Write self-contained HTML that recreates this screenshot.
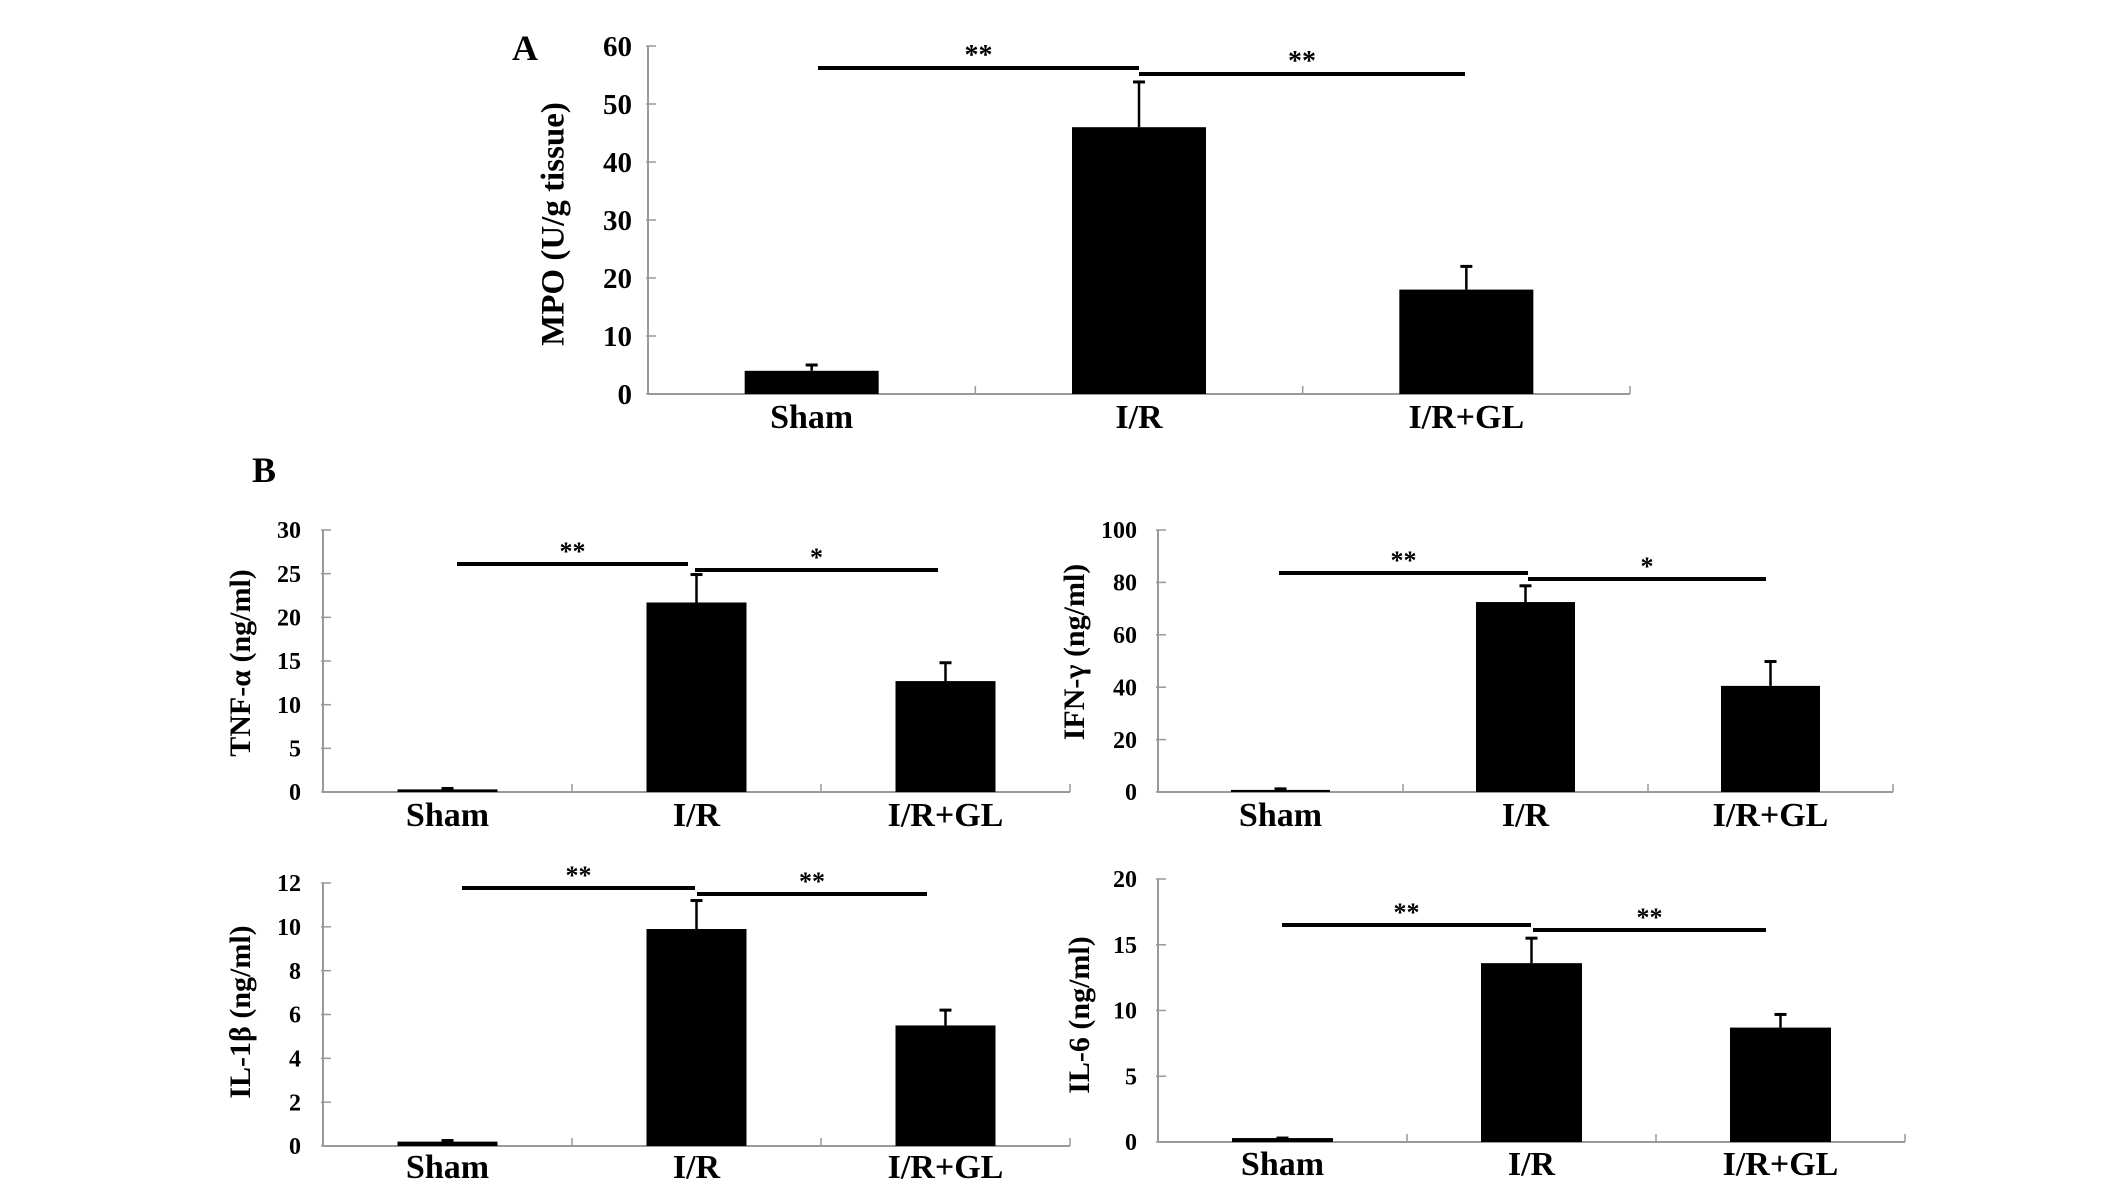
<!DOCTYPE html>
<html><head><meta charset="utf-8">
<style>
html,body{margin:0;padding:0;background:#fff;}
svg{display:block;}
text{font-family:"Liberation Serif","Times New Roman",serif;font-weight:bold;fill:#000;}
</style></head>
<body>
<svg id="fig" width="2126" height="1189" viewBox="0 0 2126 1189" xmlns="http://www.w3.org/2000/svg">
<text x="512" y="60" font-size="36">A</text>
<text x="252" y="482" font-size="36">B</text>
</svg>
<script>
const categories = ["Sham", "I/R", "I/R+GL"];
const mpoValues = [4, 46, 18];
const mpoErrors = [5, 53.8, 22];
const mpoTicks = [0, 10, 20, 30, 40, 50, 60];
const tnfValues = [0.3, 21.7, 12.7];
const tnfErrors = [0.4, 24.9, 14.8];
const tnfTicks = [0, 5, 10, 15, 20, 25, 30];
const ifnValues = [0.8, 72.5, 40.5];
const ifnErrors = [1.2, 78.7, 49.8];
const ifnTicks = [0, 20, 40, 60, 80, 100];
const il1Values = [0.2, 9.9, 5.5];
const il1Errors = [0.25, 11.2, 6.2];
const il1Ticks = [0, 2, 4, 6, 8, 10, 12];
const il6Values = [0.3, 13.6, 8.7];
const il6Errors = [0.3, 15.5, 9.7];
const il6Ticks = [0, 5, 10, 15, 20];
const mpoSig = ["**", "**"];
const tnfSig = ["**", "*"];
const ifnSig = ["**", "*"];
const il1Sig = ["**", "**"];
const il6Sig = ["**", "**"];

const NS = "http://www.w3.org/2000/svg";
const svg = document.getElementById("fig");
function mk(tag, attrs, parent) {
  const e = document.createElementNS(NS, tag);
  for (const k in attrs) e.setAttribute(k, attrs[k]);
  (parent || svg).appendChild(e);
  return e;
}

function panel(p) {
  const g = mk("g", {});
  
  
  const max = p.ticks[p.ticks.length - 1];
  const y = v => p.y0 - (v / max) * (p.y0 - p.yTop);
  const n = categories.length;
  const cw = (p.xEnd - p.x0) / n;
  const xc = i => p.x0 + cw * (i + 0.5);
  // axes
  const ya = mk("line", {x1: p.x0, y1: p.yTop, x2: p.x0, y2: p.y0, stroke: "#999", "stroke-width": 2}, g);
  
  
  const xa = mk("line", {x1: p.x0, y1: p.y0, x2: p.xEnd, y2: p.y0, stroke: "#999", "stroke-width": 2}, g);
  
  
  p.ticks.forEach(t => {
    mk("line", {x1: p.x0 - 2, y1: y(t), x2: p.x0 + 8, y2: y(t), stroke: "#999", "stroke-width": 1.5}, g);
    const tl = mk("text", {x: p.tickRight, y: y(t) + p.tickFs * 0.34, "font-size": p.tickFs, "text-anchor": "end"}, g);
    tl.textContent = t;
    
    
  });
  for (let i = 1; i <= n; i++) {
    mk("line", {x1: p.x0 + cw * i, y1: p.y0 - 8, x2: p.x0 + cw * i, y2: p.y0, stroke: "#999", "stroke-width": 1.5}, g);
  }
  // bars
  p.values.forEach((v, i) => {
    const b = mk("rect", {x: xc(i) - p.bw / 2, y: y(v), width: p.bw, height: p.y0 - y(v), fill: "#000"}, g);
    
    
    const e = mk("line", {x1: xc(i), y1: y(v), x2: xc(i), y2: y(p.errors[i]), stroke: "#000", "stroke-width": 2.5}, g);
    
    
    mk("line", {x1: xc(i) - 6, y1: y(p.errors[i]), x2: xc(i) + 6, y2: y(p.errors[i]), stroke: "#000", "stroke-width": 3}, g);
    const cl = mk("text", {x: xc(i), y: p.catBase, "font-size": p.catFs, "text-anchor": "middle"}, g);
    cl.textContent = categories[i];
    
    
  });
  // significance lines
  const s1 = mk("line", {x1: p.sig1[0], y1: p.sig1[2], x2: p.sig1[1], y2: p.sig1[2], stroke: "#000", "stroke-width": 4}, g);
  
  
  const s2 = mk("line", {x1: p.sig2[0], y1: p.sig2[2], x2: p.sig2[1], y2: p.sig2[2], stroke: "#000", "stroke-width": 4}, g);
  
  
  const t1 = mk("text", {x: (p.sig1[0] + p.sig1[1]) / 2, y: p.sig1[2] - 4, "font-size": p.starFs, "text-anchor": "middle"}, g);
  t1.textContent = p.sig[0];
  
  
  const t2 = mk("text", {x: (p.sig2[0] + p.sig2[1]) / 2, y: p.sig2[2] - 4, "font-size": p.starFs, "text-anchor": "middle"}, g);
  t2.textContent = p.sig[1];
  
  
  // y-axis title
  const yt = mk("text", {x: 0, y: 0, "font-size": p.titleFs, "text-anchor": "middle",
    transform: "translate(" + p.titleX + "," + p.titleY + ") rotate(-90)", "dominant-baseline": "middle"}, g);
  yt.textContent = p.title;
  
  
}

panel({name: "mpo", values: mpoValues, errors: mpoErrors, ticks: mpoTicks, sig: mpoSig,
  x0: 648, xEnd: 1630, y0: 394, yTop: 46, bw: 134, tickRight: 632, tickFs: 29,
  catBase: 428, catFs: 34, starFs: 28, sig1: [818, 1139, 68], sig2: [1139, 1465, 74],
  title: "MPO (U/g tissue)", titleX: 556, titleY: 224, titleFs: 33});
panel({name: "tnf", values: tnfValues, errors: tnfErrors, ticks: tnfTicks, sig: tnfSig,
  x0: 323, xEnd: 1070, y0: 792, yTop: 530, bw: 100, tickRight: 301, tickFs: 24,
  catBase: 826, catFs: 34, starFs: 26, sig1: [457, 688, 564], sig2: [695, 938, 570],
  title: "TNF-α (ng/ml)", titleX: 243, titleY: 663, titleFs: 30});
panel({name: "ifn", values: ifnValues, errors: ifnErrors, ticks: ifnTicks, sig: ifnSig,
  x0: 1158, xEnd: 1893, y0: 792, yTop: 530, bw: 99, tickRight: 1137, tickFs: 24,
  catBase: 826, catFs: 34, starFs: 26, sig1: [1279, 1528, 573], sig2: [1528, 1766, 579],
  title: "IFN-γ (ng/ml)", titleX: 1077, titleY: 652, titleFs: 30});
panel({name: "il1b", values: il1Values, errors: il1Errors, ticks: il1Ticks, sig: il1Sig,
  x0: 323, xEnd: 1070, y0: 1146, yTop: 883, bw: 100, tickRight: 301, tickFs: 24,
  catBase: 1178, catFs: 34, starFs: 26, sig1: [462, 695, 888], sig2: [697, 927, 894],
  title: "IL-1β (ng/ml)", titleX: 243, titleY: 1012, titleFs: 30});
panel({name: "il6", values: il6Values, errors: il6Errors, ticks: il6Ticks, sig: il6Sig,
  x0: 1158, xEnd: 1905, y0: 1142, yTop: 879, bw: 101, tickRight: 1137, tickFs: 24,
  catBase: 1175, catFs: 34, starFs: 26, sig1: [1282, 1531, 925], sig2: [1533, 1766, 930],
  title: "IL-6 (ng/ml)", titleX: 1082, titleY: 1015, titleFs: 30});
</script>
</body></html>
